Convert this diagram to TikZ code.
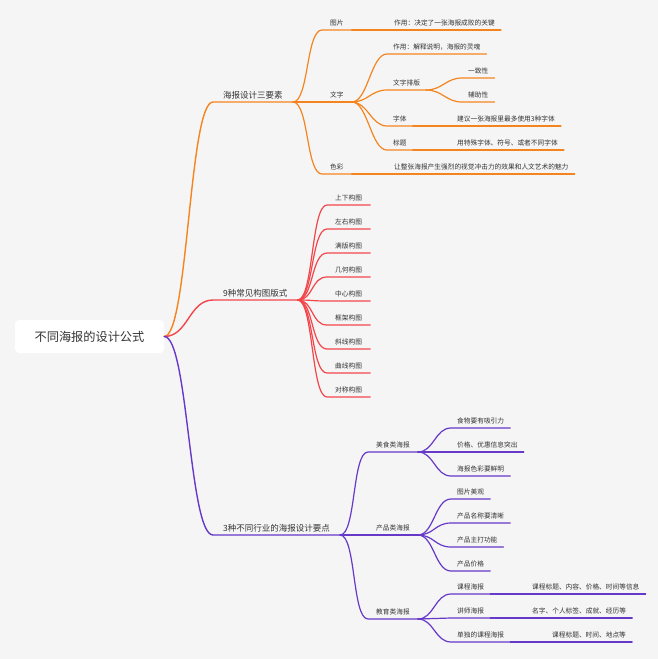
\documentclass[tikz,border=0pt]{standalone}
\usepackage{fontspec}
\setmainfont{Noto Sans CJK SC}
\usetikzlibrary{positioning}
\definecolor{bg}{HTML}{F5F5F5}
\definecolor{ink}{HTML}{333333}
\definecolor{org}{HTML}{F5841F}
\definecolor{rd}{HTML}{F2464B}
\definecolor{pur}{HTML}{6639C9}

\begin{document}
\begin{tikzpicture}[
    x=1pt,y=-1pt,
    root/.style={fill=white,rounded corners=4pt,minimum width=149pt,minimum height=33pt,text=ink,font=\fontsize{12.2}{14}\selectfont},
    main/.style={anchor=south west,text=ink,inner xsep=10pt,inner ysep=1.9pt,text height=6.8pt,text depth=1.7pt,font=\fontsize{8.5}{10}\selectfont},
    sub/.style={anchor=south west,text=ink,inner xsep=6pt,inner ysep=3.1pt,text height=5.4pt,text depth=1.3pt,font=\fontsize{6.7}{8}\selectfont},
    subtwo/.style={sub,inner xsep=8pt},
    link/.style={to path={.. controls +(#1,0) and +(-#1,0) .. (\tikztotarget)}},
    link/.default=16,
    branch/.style={draw=#1,line width=1.2pt,line cap=round},
    trunk/.style={draw=#1,line width=1.4pt,line cap=round}
  ]
    \path[use as bounding box,fill=bg] (0,0) rectangle (658,659);

    \node[root] (root) at (89.5,336.5) {不同海报的设计公式};

    % main topics
    \node[main] (a) at (213,102) {海报设计三要素};
    \node[main] (b) at (213,300) {9种常见构图版式};
    \node[main] (c) at (213,535) {3种不同行业的海报设计要点};
    \draw[trunk=org] (root.east) to[link=24] (a.south west) -- (a.south east);
    \draw[trunk=rd] (root.east) to[link=24] (b.south west) -- (b.south east);
    \draw[trunk=pur] (root.east) to[link=24] (c.south west) -- (c.south east);

    % 海报设计三要素
    \node[subtwo] (a1) at (322,30) {图片};
    \node[subtwo] (a2) at (322,102) {文字};
    \node[subtwo] (a3) at (322,174) {色彩};
    \draw[branch=org] (a.south east) to[link] (a1.south west) -- (a1.south east);
    \draw[branch=org] (a.south east) -- (a2.south west) -- (a2.south east);
    \draw[branch=org] (a.south east) to[link] (a3.south west) -- (a3.south east);

    \node[sub] (a11) at (388,30) {作用：决定了一张海报成败的关键};
    \node[sub] (a21) at (387,54) {作用：解释说明，海报的灵魂};
    \node[sub] (a22) at (387,90) {文字排版};
    \node[sub] (a23) at (387,126) {字体};
    \node[sub] (a24) at (387,150) {标题};
    \node[sub] (a31) at (388,174) {让整张海报产生强烈的视觉冲击力的效果和人文艺术的魅力};
    \draw[branch=org] (a1.south east) -- (a11.south west) -- (a11.south east);
    \draw[branch=org] (a3.south east) -- (a31.south west) -- (a31.south east);
    \foreach \k in {a21,a22,a23,a24}
      \draw[branch=org] (a2.south east) to[link] (\k.south west) -- (\k.south east);

    \node[sub] (a221) at (462,78) {一致性};
    \node[sub] (a222) at (462,102) {辅助性};
    \node[sub] (a231) at (451,126) {建议一张海报里最多使用3种字体};
    \node[sub] (a241) at (451,150) {用特殊字体、符号、或者不同字体};
    \draw[branch=org] (a22.south east) to[link] (a221.south west) -- (a221.south east);
    \draw[branch=org] (a22.south east) to[link] (a222.south west) -- (a222.south east);
    \draw[branch=org] (a23.south east) -- (a231.south west) -- (a231.south east);
    \draw[branch=org] (a24.south east) -- (a241.south west) -- (a241.south east);

    % 9种常见构图版式
    \foreach \t [count=\i] in {上下构图,左右构图,满版构图,几何构图,中心构图,框架构图,斜线构图,曲线构图,对称构图} {
      \node[subtwo] (b\i) at (327,181+24*\i) {\t};
      \draw[branch=rd] (b.south east) to[link] (b\i.south west) -- (b\i.south east);
    }

    % 3种不同行业的海报设计要点
    \node[subtwo] (c1) at (368,452) {美食类海报};
    \node[subtwo] (c2) at (368,535) {产品类海报};
    \node[subtwo] (c3) at (368,619) {教育类海报};
    \foreach \k in {c1,c2,c3}
      \draw[branch=pur] (c.south east) to[link] (\k.south west) -- (\k.south east);

    \node[sub] (c11) at (451,428) {食物要有吸引力};
    \node[sub] (c12) at (451,452) {价格、优惠信息突出};
    \node[sub] (c13) at (451,476) {海报色彩要鲜明};
    \foreach \k in {c11,c12,c13}
      \draw[branch=pur] (c1.south east) to[link] (\k.south west) -- (\k.south east);

    \node[sub] (c21) at (451,499) {图片美观};
    \node[sub] (c22) at (451,523) {产品名称要清晰};
    \node[sub] (c23) at (451,547) {产品主打功能};
    \node[sub] (c24) at (451,571) {产品价格};
    \foreach \k in {c21,c22,c23,c24}
      \draw[branch=pur] (c2.south east) to[link] (\k.south west) -- (\k.south east);

    \node[sub] (c31) at (451,594) {课程海报};
    \node[sub] (c32) at (451,618) {讲师海报};
    \node[sub] (c33) at (451,642) {单独的课程海报};
    \foreach \k in {c31,c32,c33}
      \draw[branch=pur] (c3.south east) to[link] (\k.south west) -- (\k.south east);

    \node[sub] (c311) at (526,594) {课程标题、内容、价格、时间等信息};
    \node[sub] (c321) at (526,618) {名字、个人标签、成就、经历等};
    \node[sub] (c331) at (546,642) {课程标题、时间、地点等};
    \draw[branch=pur] (c31.south east) -- (c311.south west) -- (c311.south east);
    \draw[branch=pur] (c32.south east) -- (c321.south west) -- (c321.south east);
    \draw[branch=pur] (c33.south east) -- (c331.south west) -- (c331.south east);
  \end{tikzpicture}
\end{document}
